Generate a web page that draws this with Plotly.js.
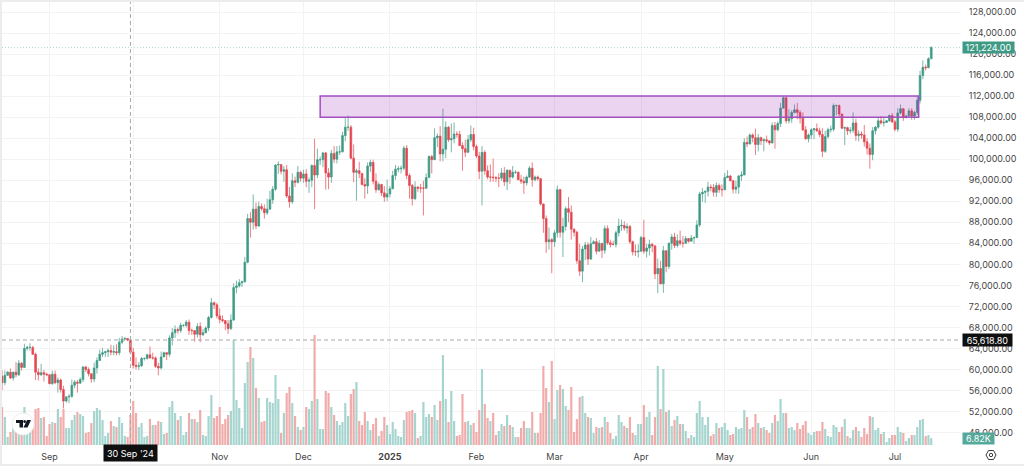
<!DOCTYPE html>
<html><head><meta charset="utf-8">
<script src="https://cdn.plot.ly/plotly-3.0.1.min.js"></script>
<style>html,body{margin:0;padding:0;background:#fff}#c{width:1024px;height:466px}</style>
</head><body><div id="c"></div>
<script>
const firstDay = '2024-08-15';
// prices in thousands, one line per month: Aug 15 2024 .. Jul 14 2025
const opens = [
58.7,57.5,58.9,59.5,58.4,59.5,59.0,61.2,60.4,64.0,64.2,64.2,62.9,59.5,59.0,59.4,59.1,
59.0,57.3,59.1,57.5,58.0,56.2,54.0,54.8,54.9,57.0,57.6,57.4,58.1,60.5,60.0,59.2,58.2,60.3,61.7,62.9,63.2,63.4,63.6,63.3,63.4,63.2,65.2,65.8,65.9,65.6,
63.3,60.8,60.6,60.7,62.1,62.1,62.8,62.2,62.2,60.6,60.3,62.4,63.2,62.9,66.0,67.0,67.6,67.4,68.4,68.4,69.0,67.4,67.4,66.7,68.2,66.6,67.0,67.9,69.9,72.7,72.3,
70.2,69.5,69.3,68.7,67.8,69.4,75.6,75.9,76.5,76.7,80.4,88.7,88.0,90.5,87.3,91.0,90.6,89.8,90.5,92.3,94.3,98.9,99.0,97.7,98.0,93.0,91.9,95.9,95.6,97.5,
96.4,97.2,95.8,96.0,98.8,97.0,99.9,99.9,101.2,97.4,96.6,101.1,100.0,101.4,101.4,104.5,106.1,106.1,100.2,97.5,97.8,97.3,95.2,94.9,98.7,99.4,95.8,94.2,95.2,93.6,92.8,
93.4,94.4,96.9,98.1,98.2,98.3,102.1,96.9,95.0,92.5,94.7,94.5,94.5,94.5,96.5,100.5,99.9,104.1,104.4,101.0,101.9,106.1,103.7,103.9,104.8,104.7,102.6,102.0,101.3,103.7,104.7,
102.4,100.6,97.7,101.3,97.8,96.6,96.6,96.5,96.4,96.4,97.4,95.7,97.9,96.6,97.5,97.5,96.1,95.8,95.5,96.6,98.3,96.1,96.6,96.3,91.5,88.7,84.3,84.7,
84.3,86.0,94.2,86.1,87.2,90.6,89.9,86.7,86.1,80.7,78.7,82.9,83.7,81.0,83.9,84.3,82.5,84.0,82.7,86.8,84.1,83.8,83.8,86.0,87.3,87.4,86.9,87.2,84.3,82.4,82.4,
82.5,85.1,82.5,83.1,83.8,83.5,78.2,79.2,76.3,82.6,79.6,84.0,85.2,83.6,84.5,84.0,84.0,84.9,84.4,85.0,85.1,87.5,93.4,93.7,93.9,94.7,94.6,93.7,95.0,94.2,
94.2,96.5,96.8,95.9,94.3,94.7,96.8,97.0,103.2,102.9,104.6,104.1,102.8,104.1,103.5,103.7,103.5,103.1,106.4,105.6,106.8,109.7,111.7,107.3,107.7,108.9,109.4,108.9,107.8,105.6,103.9,
104.6,105.6,105.8,105.4,104.7,101.5,104.3,105.6,105.7,110.2,110.2,108.6,105.9,106.0,105.4,105.5,106.9,104.5,104.8,104.6,103.3,102.1,100.9,105.4,106.1,107.3,106.9,107.0,107.3,108.3,
107.1,105.7,108.8,109.6,107.9,108.2,109.2,108.2,108.9,111.2,115.9,117.5,117.4,119.1];
const highs = [
59.8,59.8,59.7,60.2,59.6,61.4,61.8,61.4,64.9,64.5,65.0,64.5,63.2,60.2,61.1,59.9,59.4,
59.0,59.8,59.8,58.5,58.3,56.9,54.8,55.3,58.1,58.0,58.0,58.5,60.6,60.6,60.4,59.2,61.3,62.3,63.8,64.1,63.5,64.0,64.7,64.6,64.8,66.0,66.4,66.2,66.0,65.5,
64.1,62.3,61.4,62.4,62.3,63.0,64.4,63.2,62.5,61.3,63.4,63.4,63.3,66.5,67.9,68.4,68.0,68.9,68.6,69.4,69.5,67.8,67.5,68.8,69.0,67.7,68.2,70.2,73.6,72.9,72.7,
71.6,70.3,69.4,69.4,70.5,76.4,76.9,77.2,76.9,81.4,89.6,89.9,93.3,91.8,91.9,91.6,91.4,92.5,94.0,94.9,99.0,99.6,99.0,98.7,98.9,94.7,97.3,96.7,98.7,97.8,
98.0,98.1,96.5,99.0,103.9,102.0,100.5,101.4,101.4,98.3,101.8,102.5,102.5,102.6,105.2,107.8,108.3,106.5,102.8,98.2,99.5,97.3,96.4,99.4,99.9,99.9,97.3,95.6,95.3,94.9,96.1,
94.9,97.8,98.9,98.7,98.8,102.5,102.7,97.3,95.3,95.8,94.9,95.3,95.9,97.3,100.7,100.8,105.9,104.9,106.3,109.6,107.2,106.3,106.8,107.0,105.3,105.4,103.2,103.7,104.6,106.4,106.0,
102.8,101.4,102.5,101.7,98.8,99.0,100.1,96.8,97.3,98.3,98.5,98.1,97.2,98.7,97.9,97.7,97.0,96.7,96.9,98.7,99.4,96.9,96.9,96.4,89.2,89.3,87.0,85.0,
86.5,95.0,94.4,88.9,91.0,92.8,91.2,86.8,86.4,83.9,83.5,84.3,84.2,85.2,84.6,85.0,84.6,84.0,87.4,87.4,84.7,84.5,86.4,88.7,88.5,88.2,87.8,87.5,84.5,83.8,83.8,
85.4,88.5,83.9,84.7,84.1,83.7,81.1,80.7,83.5,82.6,84.2,85.8,86.0,85.7,86.4,85.4,85.4,85.0,85.6,85.3,88.4,93.8,94.5,94.0,95.7,95.2,95.3,95.6,95.4,95.2,
97.4,97.9,97.0,96.0,95.9,97.0,97.7,104.0,104.3,104.9,104.9,105.8,104.8,104.3,104.0,104.5,103.6,107.0,107.1,107.2,110.7,112.0,111.9,109.5,109.3,110.4,110.7,109.3,108.9,106.3,104.9,
105.9,105.9,106.8,106.0,105.9,105.4,106.0,106.4,110.6,110.4,110.4,108.6,106.2,106.2,106.1,108.9,107.7,105.5,105.3,106.5,104.0,103.0,106.1,106.3,108.0,108.2,108.0,107.5,108.5,108.8,
107.5,109.7,110.4,109.7,108.5,109.7,109.7,109.2,111.9,116.8,118.8,118.0,119.4,121.5];
const lows = [
56.1,57.0,58.8,58.2,57.9,58.5,58.8,59.8,60.3,63.6,63.6,62.8,58.0,57.9,58.8,57.7,58.7,
57.2,57.1,57.2,55.6,55.6,52.6,53.7,53.6,54.6,56.4,55.6,57.3,57.6,59.5,58.7,57.5,57.6,59.2,61.7,62.4,62.4,62.4,62.7,62.7,62.7,62.7,64.8,65.5,65.4,62.9,
60.2,60.0,59.9,60.5,61.7,61.9,62.1,61.9,60.3,58.9,60.0,62.4,61.8,62.4,64.6,66.0,66.8,67.0,68.1,68.0,66.6,66.6,65.3,66.1,65.2,66.4,66.9,67.3,69.7,71.5,69.7,
68.8,69.0,67.5,66.8,67.5,69.3,74.5,75.6,75.7,76.5,80.2,85.1,86.6,86.7,87.1,90.2,88.7,89.4,90.9,91.5,94.0,97.2,97.1,95.7,92.6,90.8,91.5,94.7,95.4,95.7,
95.5,94.7,93.6,94.7,90.5,96.4,98.9,98.5,94.2,94.3,95.5,99.3,99.2,100.8,101.3,103.4,105.4,100.0,95.6,92.1,96.4,95.0,92.5,93.4,97.6,95.2,93.6,94.0,93.0,91.9,92.0,
92.7,94.3,96.1,97.5,97.3,97.9,96.2,92.5,91.2,92.2,93.8,93.6,89.3,94.3,96.5,97.3,99.9,102.3,99.6,99.6,100.2,103.3,101.3,103.0,104.1,102.5,97.8,100.4,101.3,103.3,101.7,
100.2,96.2,91.2,97.0,96.2,95.7,95.7,95.7,94.7,95.9,94.9,94.1,95.3,96.3,97.2,96.0,95.3,93.4,95.0,96.4,94.8,95.8,95.9,91.2,86.0,82.2,82.8,78.3,
83.3,85.1,85.1,81.4,86.4,88.0,84.7,85.3,80.1,77.8,76.6,80.8,79.9,80.9,83.9,81.9,82.4,81.2,82.0,83.7,83.2,83.6,83.2,85.3,86.4,86.4,85.9,83.9,81.7,81.6,81.3,
82.4,82.0,81.3,81.7,82.3,77.2,74.5,76.2,74.6,78.5,79.1,82.8,83.1,83.2,83.6,83.2,83.9,84.1,84.6,83.9,85.0,87.1,91.9,91.7,92.9,93.9,92.9,92.8,93.6,92.9,
94.1,96.4,95.8,93.5,93.5,93.4,95.9,97.0,102.3,102.8,103.2,100.8,101.5,102.7,101.5,103.1,102.7,103.0,102.0,105.3,106.1,109.7,106.8,106.8,106.9,108.7,107.6,106.8,105.3,103.7,103.2,
103.8,103.8,105.2,104.2,100.4,101.2,103.9,105.1,105.3,108.4,108.1,105.7,102.7,104.6,104.9,105.0,103.5,103.4,103.9,102.4,100.9,98.2,99.8,104.7,105.8,106.6,106.2,106.9,107.1,106.9,
105.3,105.2,108.5,107.3,107.8,108.1,107.5,107.5,108.4,110.6,115.2,116.9,117.3,119.1];
const closes = [
57.5,58.9,59.5,58.4,59.5,59.0,61.2,60.4,64.0,64.2,64.2,62.9,59.5,59.0,59.4,59.1,59.0,
57.3,59.1,57.5,58.0,56.2,54.0,54.8,54.9,57.0,57.6,57.4,58.1,60.5,60.0,59.2,58.2,60.3,61.7,62.9,63.2,63.4,63.6,63.3,63.4,63.2,65.2,65.8,65.9,65.6,63.3,
60.8,60.6,60.7,62.1,62.1,62.8,62.2,62.2,60.6,60.3,62.4,63.2,62.9,66.0,67.0,67.6,67.4,68.4,68.4,69.0,67.4,67.4,66.7,68.2,66.6,67.0,67.9,69.9,72.7,72.3,70.2,
69.5,69.3,68.7,67.8,69.4,75.6,75.9,76.5,76.7,80.4,88.7,88.0,90.5,87.3,91.0,90.6,89.8,90.5,92.3,94.3,98.9,99.0,97.7,98.0,93.0,91.9,95.9,95.6,97.5,96.4,
97.2,95.8,96.0,98.8,97.0,99.9,99.9,101.2,97.4,96.6,101.1,100.0,101.4,101.4,104.5,106.1,106.1,100.2,97.5,97.8,97.3,95.2,94.9,98.7,99.4,95.8,94.2,95.2,93.6,92.8,93.4,
94.4,96.9,98.1,98.2,98.3,102.1,96.9,95.0,92.5,94.7,94.5,94.5,94.5,96.5,100.5,99.9,104.1,104.4,101.0,101.9,106.1,103.7,103.9,104.8,104.7,102.6,102.0,101.3,103.7,104.7,102.4,
100.6,97.7,101.3,97.8,96.6,96.6,96.5,96.4,96.4,97.4,95.7,97.9,96.6,97.5,97.5,96.1,95.8,95.5,96.6,98.3,96.1,96.6,96.3,91.5,88.7,84.3,84.7,84.3,
86.0,94.2,86.1,87.2,90.6,89.9,86.7,86.1,80.7,78.7,82.9,83.7,81.0,83.9,84.3,82.5,84.0,82.7,86.8,84.1,83.8,83.8,86.0,87.3,87.4,86.9,87.2,84.3,82.4,82.4,82.5,
85.1,82.5,83.1,83.8,83.5,78.2,79.2,76.3,82.6,79.6,84.0,85.2,83.6,84.5,84.0,84.0,84.9,84.4,85.0,85.1,87.5,93.4,93.7,93.9,94.7,94.6,93.7,95.0,94.2,94.2,
96.5,96.8,95.9,94.3,94.7,96.8,97.0,103.2,102.9,104.6,104.1,102.8,104.1,103.5,103.7,103.5,103.1,106.4,105.6,106.8,109.7,111.7,107.3,107.7,108.9,109.4,108.9,107.8,105.6,103.9,104.6,
105.6,105.8,105.4,104.7,101.5,104.3,105.6,105.7,110.2,110.2,108.6,105.9,106.0,105.4,105.5,106.9,104.5,104.8,104.6,103.3,102.1,100.9,105.4,106.1,107.3,106.9,107.0,107.3,108.3,107.1,
105.7,108.8,109.6,107.9,108.2,109.2,108.2,108.9,111.2,115.9,117.5,117.4,119.1,121.224];
// volume in K
const volumes = [
38,28,8,13,18,14,13,15,38,30,28,18,36,37,27,28,9,
21,23,22,36,28,36,17,17,25,30,33,31,29,12,13,22,34,37,35,25,9,12,24,19,18,28,22,9,8,30,
44,32,18,22,8,9,26,20,20,24,23,11,12,38,44,32,25,29,10,13,32,26,26,23,35,10,9,29,50,27,29,
38,21,26,30,34,105,45,37,17,62,83,98,87,57,47,23,24,47,43,42,70,46,12,32,52,58,42,29,18,15,
18,38,36,44,110,46,16,16,54,52,38,30,24,20,23,42,29,51,56,63,24,20,33,24,15,21,27,9,14,28,20,
11,23,16,9,8,25,33,34,35,32,7,9,43,28,31,28,40,25,44,90,46,23,54,24,9,10,51,23,24,20,22,
13,35,76,41,27,24,32,10,14,21,19,30,20,18,8,8,17,24,17,17,33,12,12,32,79,57,43,84,
26,55,60,56,39,35,58,13,26,48,49,32,28,27,12,18,17,18,28,23,12,6,9,30,23,19,17,28,12,10,21,
21,40,28,33,10,28,79,36,76,33,35,19,25,29,21,21,14,7,10,8,32,44,28,20,28,9,11,22,17,18,
22,15,10,11,18,16,17,35,28,16,18,31,22,17,18,15,12,22,30,24,46,32,32,17,18,15,22,16,20,24,12,
10,13,14,14,23,16,9,8,20,18,13,18,26,9,7,15,18,14,8,17,11,29,28,15,17,11,13,3,7,10,
10,18,13,12,4,7,10,10,18,25,26,9,10,6.82];

const priceTicks = [128,124,120,116,112,108,104,100,96,92,88,84,80,76,72,68,64,60,56,52,48];
const monthTicks = ['2024-09-01','2024-10-01','2024-11-01','2024-12-01','2025-01-01','2025-02-01','2025-03-01','2025-04-01','2025-05-01','2025-06-01','2025-07-01'];
const monthLabels = ['Sep','','Nov','Dec','<b>2025</b>','Feb','Mar','Apr','May','Jun','Jul'];
const lastPrice = 121224, lastLabel = '121,224.00';
const crossPrice = 65618.8, crossLabel = '65,618.80';
const crossDay = '2024-09-30', crossDayLabel = "30 Sep '24";
const volumeLabel = '6.82K';
const zoneTop = 112000, zoneBottom = 108000, zoneStart = '2024-12-07', zoneEnd = '2025-07-09 12:00';

const UP = '#3e9a84', DOWN = '#e4464f', UPV = '#a5d5ce', DOWNV = '#f0abaa';
const k = v => v.map(n => n * 1000);
const t0 = Date.parse(firstDay + 'T00:00:00Z');
const days = closes.map((_, i) => new Date(t0 + i * 864e5).toISOString().slice(0, 10));

const L = 2, T = 2, W = 959, H = 443;
const px = x => (x - L) / W, py = y => (T + H - y) / H;
const FONT = 'Inter, "Liberation Sans", sans-serif';

const rectPx = (x0, y0, x1, y1, c) => ({type:'rect',xref:'paper',yref:'paper',layer:'above',x0:px(x0),x1:px(x1),y0:py(y0),y1:py(y1),fillcolor:c,line:{width:0}});
const polyPx = (pts, c) => ({type:'path',xref:'paper',yref:'paper',layer:'above',fillcolor:c,line:{width:0},
  path:'M'+pts.map(p=>px(p[0])+','+py(p[1])).join(' L')+' Z'});

const shapes = [
  {type:'line',xref:'paper',yref:'y',x0:0,x1:1,y0:lastPrice,y1:lastPrice,line:{color:'#a8d6cb',width:1,dash:'1px,2px'}},
  {type:'line',xref:'paper',yref:'y',x0:0,x1:1,y0:crossPrice,y1:crossPrice,line:{color:'#a8a8a8',width:1,dash:'4px,3px'}},
  {type:'line',xref:'x',yref:'paper',x0:crossDay,x1:crossDay,y0:0,y1:1,line:{color:'#a8a8a8',width:1,dash:'4px,3px'}},
  {type:'rect',xref:'x',yref:'y',layer:'above',x0:zoneStart,x1:zoneEnd,y0:zoneBottom,y1:zoneTop,fillcolor:'rgba(156,39,176,0.2)',line:{color:'#a24fc0',width:1.5}},
  // window frame strips
  rectPx(0,0,1024,2,'#ececec'), rectPx(0,0,2,466,'#ececec'), rectPx(0,464,1024,466,'#ececec'),
  // TradingView badge
  {type:'circle',xref:'paper',yref:'paper',layer:'above',x0:px(12),x1:px(34),y0:py(435),y1:py(413),fillcolor:'#ffffff',line:{color:'#eeeeee',width:1}},
  polyPx([[16,420],[23,420],[23,427.5],[19.5,427.5],[19.5,423],[16,423]],'#131722'),
  {type:'circle',xref:'paper',yref:'paper',layer:'above',x0:px(23.3),x1:px(26),y0:py(423),y1:py(420),fillcolor:'#131722',line:{width:0}},
  polyPx([[27,420],[31,420],[27.5,427.5],[23.5,427.5]],'#131722'),
  // settings glyph
  {type:'path',xref:'paper',yref:'paper',layer:'above',line:{color:'#3c3c3c',width:1},fillcolor:'rgba(0,0,0,0)',
   path:'M'+[[986,455],[988.5,450.5],[993.5,450.5],[996,455],[993.5,459.5],[988.5,459.5]].map(p=>px(p[0])+','+py(p[1])).join(' L')+' Z'},
  {type:'circle',xref:'paper',yref:'paper',layer:'above',x0:px(989.3),x1:px(992.7),y0:py(456.7),y1:py(453.3),line:{color:'#3c3c3c',width:1},fillcolor:'rgba(0,0,0,0)'}
];

const tag = (x, xref, y, yref, text, bg, w, h, color) => ({x, xref, y, yref, text, showarrow:false, xanchor:'center', yanchor:'middle',
  bgcolor:bg, width:w, height:h, borderpad:0, align:'center', font:{family:FONT,size:9,color:color||'#ffffff'}});
const annotations = [
  tag(px(988.5), 'paper', lastPrice, 'y', lastLabel, '#3e9a84', 51, 11),
  tag(px(987), 'paper', crossPrice, 'y', crossLabel, '#0f0f0f', 49, 12),
  tag(px(978), 'paper', py(438), 'paper', volumeLabel, '#55a99a', 31, 11),
  tag(crossDay, 'x', py(453), 'paper', crossDayLabel, '#0f0f0f', 53, 16)
];

const data = [
  {type:'bar',x:days,y:volumes,yaxis:'y2',hoverinfo:'skip',
   marker:{color:closes.map((c,i)=>c>=opens[i]?UPV:DOWNV),line:{width:0}}},
  {type:'candlestick',x:days,open:k(opens),high:k(highs),low:k(lows),close:k(closes),yaxis:'y',hoverinfo:'skip',whiskerwidth:0,
   increasing:{line:{color:UP,width:0.7},fillcolor:UP},decreasing:{line:{color:DOWN,width:0.7},fillcolor:DOWN}}
];
const layout = {
  width:1024,height:466,paper_bgcolor:'#ffffff',plot_bgcolor:'#ffffff',showlegend:false,dragmode:false,hovermode:false,
  margin:{l:L,r:1024-L-W,t:T,b:466-T-H,pad:0},bargap:0.22,boxgap:0.12,font:{family:FONT,size:10,color:'#454545'},
  xaxis:{type:'date',range:['2024-08-14 23:20','2025-07-24 16:00'],rangeslider:{visible:false},tickmode:'array',tickvals:monthTicks,ticktext:monthLabels,
    showgrid:true,gridcolor:'#f3f3f3',gridwidth:1,zeroline:false,showline:false,ticks:'outside',ticklen:3,tickcolor:'rgba(0,0,0,0)',tickangle:0,tickfont:{family:FONT,size:9,color:'#454545'},automargin:false},
  yaxis:{range:[45641,129902],side:'right',tickmode:'array',tickvals:k(priceTicks),tickformat:',.2f',showgrid:true,gridcolor:'#f3f3f3',gridwidth:1,
    zeroline:false,showline:false,ticks:'outside',ticklen:5,tickcolor:'rgba(0,0,0,0)',tickfont:{family:FONT,size:9,color:'#454545'},automargin:false},
  yaxis2:{range:[0,443],overlaying:'y',side:'left',visible:false,fixedrange:true},
  shapes,annotations
};
Plotly.newPlot('c',data,layout,{staticPlot:true,displayModeBar:false,responsive:false});
</script></body></html>
